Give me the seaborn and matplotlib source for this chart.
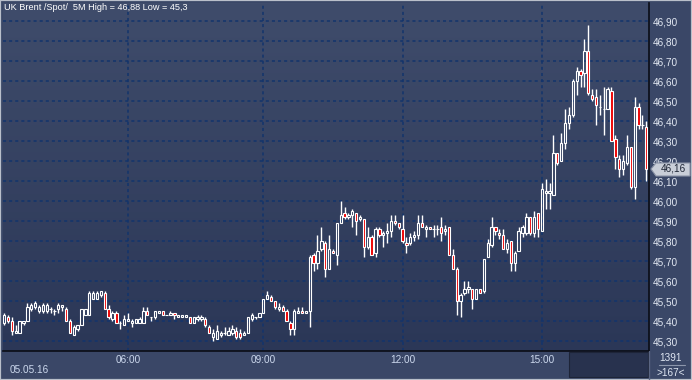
import numpy as np
import pandas as pd
import seaborn as sns
import matplotlib.pyplot as plt
from matplotlib.colors import LinearSegmentedColormap
from matplotlib.patches import Rectangle, Polygon
from matplotlib.lines import Line2D

# 5 minute candles, UK Brent spot, 05.05.16
opens = [
    45.39, 45.42, 45.40, 45.34, 45.34, 45.39, 45.40, 45.46, 45.47, 45.45,
    45.45, 45.45, 45.46, 45.45, 45.46, 45.47, 45.46, 45.40, 45.33, 45.36,
    45.38, 45.43, 45.43, 45.51, 45.51, 45.53, 45.54, 45.46, 45.41, 45.44,
    45.39, 45.38, 45.40, 45.39, 45.39, 45.39, 45.39, 45.45, 45.42, 45.42,
    45.44, 45.45, 45.43, 45.43, 45.44, 45.42, 45.42, 45.42, 45.42, 45.39,
    45.41, 45.41, 45.41, 45.37, 45.32, 45.31, 45.33, 45.34, 45.33, 45.34,
    45.35, 45.34, 45.33, 45.34, 45.41, 45.42, 45.42, 45.44, 45.51, 45.52,
    45.50, 45.46, 45.47, 45.45, 45.39, 45.36, 45.44, 45.45, 45.44, 45.45,
    45.73, 45.69, 45.76, 45.79, 45.66, 45.75, 45.73, 45.89, 45.94, 45.92,
    45.93, 45.94, 45.91, 45.91, 45.77, 45.82, 45.74, 45.86, 45.83, 45.84,
    45.85, 45.90, 45.89, 45.86, 45.79, 45.79, 45.82, 45.83, 45.89, 45.86,
    45.87, 45.86, 45.86, 45.87, 45.85, 45.87, 45.73, 45.66, 45.50, 45.54,
    45.56, 45.56, 45.51, 45.56, 45.55, 45.72, 45.78, 45.87, 45.84, 45.83,
    45.76, 45.80, 45.69, 45.75, 45.84, 45.84, 45.92, 45.84, 45.94, 45.85,
    46.04, 46.04, 46.03, 46.24, 46.20, 46.29, 46.39, 46.43, 46.60, 46.65,
    46.64, 46.75, 46.53, 46.52, 46.47, 46.46, 46.46, 46.55, 46.31, 46.21,
    46.16, 46.19, 46.27, 46.07, 46.47, 46.38, 46.37,
]
highs = [
    45.44, 45.43, 45.42, 45.38, 45.40, 45.40, 45.49, 45.49, 45.50, 45.48,
    45.49, 45.49, 45.47, 45.46, 45.49, 45.48, 45.47, 45.41, 45.38, 45.38,
    45.46, 45.46, 45.55, 45.55, 45.55, 45.55, 45.55, 45.48, 45.45, 45.45,
    45.40, 45.43, 45.44, 45.41, 45.41, 45.42, 45.47, 45.47, 45.42, 45.45,
    45.45, 45.45, 45.43, 45.45, 45.44, 45.43, 45.43, 45.43, 45.42, 45.42,
    45.43, 45.43, 45.42, 45.38, 45.36, 45.38, 45.35, 45.37, 45.37, 45.38,
    45.37, 45.36, 45.35, 45.42, 45.44, 45.42, 45.44, 45.51, 45.55, 45.53,
    45.50, 45.49, 45.48, 45.46, 45.40, 45.46, 45.47, 45.47, 45.45, 45.73,
    45.74, 45.83, 45.87, 45.80, 45.83, 45.76, 45.89, 46.00, 45.97, 45.94,
    45.96, 45.94, 45.93, 45.91, 45.87, 45.83, 45.87, 45.87, 45.85, 45.89,
    45.93, 45.93, 45.89, 45.93, 45.82, 45.84, 45.85, 45.93, 45.93, 45.88,
    45.87, 45.88, 45.88, 45.92, 45.88, 45.87, 45.76, 45.67, 45.54, 45.60,
    45.60, 45.56, 45.56, 45.56, 45.71, 45.81, 45.92, 45.87, 45.86, 45.86,
    45.81, 45.80, 45.75, 45.87, 45.88, 45.94, 45.92, 45.95, 45.94, 46.09,
    46.11, 46.09, 46.33, 46.24, 46.34, 46.46, 46.47, 46.61, 46.67, 46.66,
    46.81, 46.88, 46.56, 46.56, 46.53, 46.57, 46.57, 46.57, 46.33, 46.23,
    46.23, 46.33, 46.27, 46.52, 46.49, 46.43, 46.40,
]
lows = [
    45.38, 45.39, 45.33, 45.34, 45.34, 45.38, 45.40, 45.45, 45.46, 45.44,
    45.44, 45.44, 45.44, 45.43, 45.44, 45.45, 45.40, 45.34, 45.33, 45.35,
    45.38, 45.43, 45.43, 45.51, 45.51, 45.52, 45.46, 45.41, 45.40, 45.39,
    45.36, 45.38, 45.40, 45.37, 45.39, 45.39, 45.39, 45.43, 45.40, 45.41,
    45.44, 45.43, 45.43, 45.43, 45.41, 45.42, 45.42, 45.42, 45.39, 45.39,
    45.40, 45.40, 45.37, 45.34, 45.30, 45.31, 45.32, 45.33, 45.33, 45.33,
    45.31, 45.31, 45.33, 45.34, 45.40, 45.41, 45.42, 45.44, 45.51, 45.50,
    45.46, 45.45, 45.45, 45.40, 45.33, 45.33, 45.44, 45.44, 45.44, 45.37,
    45.65, 45.66, 45.75, 45.62, 45.66, 45.74, 45.68, 45.89, 45.91, 45.91,
    45.87, 45.83, 45.90, 45.72, 45.76, 45.73, 45.72, 45.82, 45.77, 45.79,
    45.82, 45.88, 45.86, 45.79, 45.74, 45.78, 45.80, 45.81, 45.87, 45.82,
    45.86, 45.82, 45.83, 45.80, 45.83, 45.73, 45.66, 45.43, 45.42, 45.53,
    45.54, 45.46, 45.51, 45.54, 45.54, 45.72, 45.77, 45.83, 45.81, 45.76,
    45.74, 45.65, 45.65, 45.75, 45.82, 45.83, 45.83, 45.82, 45.82, 45.85,
    45.96, 45.96, 46.03, 46.18, 46.20, 46.26, 46.36, 46.42, 46.53, 46.57,
    46.57, 46.53, 46.50, 46.38, 46.43, 46.33, 46.46, 46.30, 46.16, 46.12,
    46.13, 46.18, 46.06, 46.01, 46.36, 46.36, 46.10,
]
closes = [
    45.43, 45.40, 45.35, 45.35, 45.40, 45.40, 45.47, 45.48, 45.49, 45.47,
    45.48, 45.48, 45.46, 45.45, 45.48, 45.48, 45.40, 45.34, 45.37, 45.38,
    45.46, 45.46, 45.54, 45.54, 45.54, 45.55, 45.46, 45.42, 45.44, 45.39,
    45.39, 45.41, 45.41, 45.40, 45.41, 45.41, 45.45, 45.43, 45.42, 45.45,
    45.45, 45.43, 45.43, 45.44, 45.43, 45.43, 45.43, 45.43, 45.39, 45.42,
    45.42, 45.42, 45.38, 45.34, 45.34, 45.35, 45.34, 45.34, 45.35, 45.36,
    45.32, 45.32, 45.34, 45.42, 45.43, 45.42, 45.44, 45.51, 45.53, 45.50,
    45.47, 45.47, 45.45, 45.40, 45.36, 45.45, 45.45, 45.44, 45.45, 45.72,
    45.69, 45.75, 45.80, 45.66, 45.76, 45.74, 45.89, 45.93, 45.92, 45.93,
    45.95, 45.90, 45.92, 45.77, 45.82, 45.73, 45.86, 45.83, 45.84, 45.85,
    45.90, 45.89, 45.87, 45.80, 45.78, 45.82, 45.83, 45.89, 45.87, 45.87,
    45.86, 45.86, 45.86, 45.84, 45.86, 45.73, 45.66, 45.50, 45.53, 45.56,
    45.57, 45.51, 45.56, 45.54, 45.71, 45.79, 45.87, 45.85, 45.83, 45.76,
    45.79, 45.69, 45.74, 45.85, 45.87, 45.92, 45.84, 45.92, 45.86, 46.06,
    46.05, 46.05, 46.24, 46.19, 46.29, 46.39, 46.43, 46.60, 46.65, 46.63,
    46.75, 46.54, 46.51, 46.48, 46.47, 46.46, 46.56, 46.30, 46.22, 46.16,
    46.20, 46.27, 46.07, 46.47, 46.38, 46.38, 46.16,
]

time_ticks = [32, 67, 103, 139]
time_labels = ["06:00", "09:00", "12:00", "15:00"]
price_ticks = [45.3, 45.4, 45.5, 45.6, 45.7, 45.8, 45.9, 46.0,
               46.1, 46.2, 46.3, 46.4, 46.5, 46.6, 46.7, 46.8, 46.9]

df = pd.DataFrame({"open": opens, "high": highs, "low": lows, "close": closes})
df["bar"] = np.arange(len(df))
df["top"] = df[["open", "close"]].max(axis=1)
df["bottom"] = df[["open", "close"]].min(axis=1)
df["up"] = df["close"] >= df["open"]

sns.set_style("dark")
plt.rcParams["font.family"] = ["Liberation Sans", "DejaVu Sans"]

W, H = 692, 380
fig = plt.figure(figsize=(W / 100, H / 100), dpi=100)
fig.patch.set_facecolor("#3a4767")
ax = fig.add_axes([3 / W, 29 / H, 646 / W, 348 / H])

# gradient background of the plot area
cmap = LinearSegmentedColormap.from_list("bg", ["#3f4c6b", "#2b3757"])
ax.imshow(np.linspace(0, 1, 256).reshape(-1, 1), cmap=cmap, aspect="auto",
          extent=[0, 1, 0, 1], transform=ax.transAxes, zorder=0)

grid_kw = dict(color="#12346c", lw=1.1, ls=(0, (2, 2)), zorder=1)
for p in price_ticks:
    ax.axhline(p, **grid_kw)
for t in time_ticks:
    ax.axvline(t, **grid_kw)

# wicks (split so hollow bodies stay empty)
ax.vlines(df["bar"], df["top"], df["high"], color="white", lw=1.0, zorder=3)
ax.vlines(df["bar"], df["low"], df["bottom"], color="white", lw=1.0, zorder=3)

up = df[df["up"]]
dn = df[~df["up"]]
ax.bar(up["bar"], up["top"] - up["bottom"], bottom=up["bottom"], width=0.6,
       facecolor="none", edgecolor="white", linewidth=0.8, zorder=4)
ax.bar(dn["bar"], dn["top"] - dn["bottom"], bottom=dn["bottom"], width=0.6,
       facecolor="#ee0000", edgecolor="white", linewidth=0.8, zorder=4)

ax.set_xlim(-0.3, 166.7)
ax.set_ylim(45.2525, 46.99)

ax.yaxis.tick_right()
ax.set_yticks(price_ticks)
ax.set_yticklabels([f"{p:.2f}".replace(".", ",") for p in price_ticks])
ax.set_xticks(time_ticks)
ax.set_xticklabels(time_labels)
ax.tick_params(axis="y", length=0, pad=2.5, labelsize=7.2, labelcolor="#e2e8f2")
ax.tick_params(axis="x", length=0, pad=3, labelsize=7.2, labelcolor="#cdd9ee")
ax.grid(False)
for side in ["left", "top"]:
    ax.spines[side].set_visible(False)
for side in ["right", "bottom"]:
    ax.spines[side].set_color("#0a0d16")
    ax.spines[side].set_linewidth(1.2)
ax.set_xlabel("")
ax.set_ylabel("")

ftr = fig.transFigure


def fx(px):
    return px / W


def fy(py):
    return 1 - py / H


fig.text(fx(4), fy(8), "UK Brent /Spot/  5M High = 46,88 Low = 45,3",
         color="white", fontsize=6.6, va="center", ha="left")
fig.text(fx(10), fy(370), "05.05.16", color="#cdd9ee", fontsize=7.2,
         va="center", ha="left")

# dark scroll box in the time axis
fig.patches.append(Rectangle((fx(569), fy(377)), fx(648) - fx(569), fy(352) - fy(377),
                             transform=ftr, facecolor="#28324e",
                             edgecolor="#1d2438", lw=0.8))
fig.lines.append(Line2D([fx(649), fx(649)], [fy(351), fy(380)], transform=ftr,
                        color="#5a6582", lw=1))

# bar counter box bottom right
fig.text(fx(671), fy(358), "1391", color="#dfe6f2", fontsize=7.2, ha="center", va="center")
fig.text(fx(671), fy(373), ">167<", color="#dfe6f2", fontsize=7.2, ha="center", va="center")
fig.lines.append(Line2D([fx(659), fx(685)], [fy(365), fy(365)], transform=ftr,
                        color="#8c96ac", lw=0.8))

# last price tag
last = closes[-1]
ty = fy(169)
tag = Polygon([(fx(651), ty), (fx(656), fy(163)), (fx(690), fy(163)),
               (fx(690), fy(176)), (fx(656), fy(176))], closed=True,
              transform=ftr, facecolor="#c9ced8", edgecolor="#8b93a6", lw=0.8)
fig.patches.append(tag)
fig.text(fx(673), ty, f"{last:.2f}".replace(".", ","), color="#1e2535",
         fontsize=7.2, ha="center", va="center")

# outer frame
fig.patches.append(Rectangle((0, 0), 1, 1, transform=ftr, facecolor="none",
                             edgecolor="#b9bfca", lw=1.6))

fig.savefig("out.png", dpi=100, facecolor=fig.get_facecolor())
